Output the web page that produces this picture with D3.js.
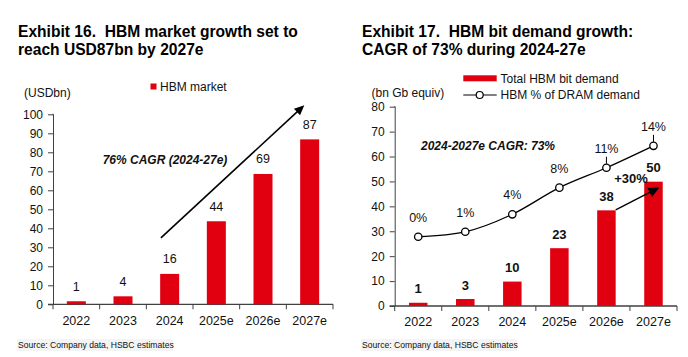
<!DOCTYPE html>
<html><head><meta charset="utf-8">
<script src="https://cdn.jsdelivr.net/npm/d3@7/dist/d3.min.js"></script>
<style>
html,body{margin:0;padding:0;background:#fff;}
svg{display:block;font-family:"Liberation Sans",Arial,sans-serif;}
text{white-space:pre;}
</style></head>
<body><svg id="c" width="688" height="357"></svg>
<script>
// ---- data ----
const years = ["2022","2023","2024","2025e","2026e","2027e"];
const marketValues = [1.6, 4.2, 16, 43.7, 68.6, 86.8];
const marketLabels = ["1","4","16","44","69","87"];
const marketTicks = [0,10,20,30,40,50,60,70,80,90,100];
const bitDemand = [1.3, 2.8, 9.8, 23.2, 38.4, 49.9];
const bitLabels = ["1","3","10","23","38","50"];
const dramShareLine = [27.8, 29.8, 36.8, 47.5, 55.5, 64.3]; // plotted on left scale
const dramShareLabels = ["0%","1%","4%","8%","11%","14%"];
const bitTicks = [0,10,20,30,40,50,60,70,80];

const RED = "#e0000f", AX = "#404040", TXT = "#111";
const svg = d3.select("#c");

function text(g, x, y, s, o={}) {
  return g.append("text").attr("x", x).attr("y", y).attr("dy","0.35em")
    .attr("font-size", o.size||12).attr("font-weight", o.weight||"normal")
    .attr("font-style", o.style||"normal").attr("text-anchor", o.anchor||"start")
    .attr("fill", o.fill||TXT).text(s);
}

function axes(g, x, y, ticks) {
  const x0 = x.range()[0], x1 = x.range()[1], y0 = y(0);
  const ya = g.append("g").attr("transform", `translate(${x0},0)`)
    .call(d3.axisLeft(y).tickValues(ticks).tickSize(5).tickPadding(5));
  ya.select(".domain").attr("stroke", AX).attr("d", `M-0.5,${y(ticks[ticks.length-1])}H0.5V${y0}`);
  ya.selectAll(".tick line").attr("stroke", AX);
  ya.selectAll(".tick text").attr("font-size", 12).attr("fill", TXT).attr("font-family", null);
  ya.attr("font-family", null);
  g.append("line").attr("x1", x0-5).attr("x2", x1).attr("y1", y0).attr("y2", y0).attr("stroke", AX).attr("stroke-width", 1.3);
  const bounds = years.map(d => x(d)).concat([x1]);
  bounds.forEach(b => g.append("line").attr("x1", b).attr("x2", b).attr("y1", y0).attr("y2", y0+5).attr("stroke", AX));
  years.forEach(d => text(g, x(d)+x.bandwidth()/2, y0+16, d, {anchor:"middle", size:12.5}));
}

// ===== Chart 1 =====
{
  const g = svg.append("g");
  text(g, 18, 32, "Exhibit 16.  HBM market growth set to", {size:15.6, weight:"bold", fill:"#000"});
  text(g, 18, 50, "reach USD87bn by 2027e", {size:15.6, weight:"bold", fill:"#000"});
  const x = d3.scaleBand().domain(years).range([53, 333]).padding(0);
  const y = d3.scaleLinear().domain([0,100]).range([304.3, 114.3]);
  text(g, 24, 93, "(USDbn)", {size:12});
  g.append("rect").attr("x",150.5).attr("y",83.5).attr("width",6).attr("height",6).attr("fill",RED);
  text(g, 160, 87, "HBM market", {size:12});
  axes(g, x, y, marketTicks);
  const bw = 19;
  g.selectAll(".b1").data(years).enter().append("rect")
    .attr("x", d => x(d)+x.bandwidth()/2-bw/2).attr("width", bw)
    .attr("y", (d,i) => y(marketValues[i])).attr("height", (d,i) => y(0)-y(marketValues[i]))
    .attr("fill", RED);
  years.forEach((d,i) => text(g, x(d)+x.bandwidth()/2, y(marketValues[i])-15, marketLabels[i], {anchor:"middle", size:12.5}));
  text(g, 165, 160, "76% CAGR (2024-27e)", {anchor:"middle", size:12, weight:"bold", style:"italic"});
  // arrow
  const ax0 = x("2024")+14.6, ay0 = y(35), ax1 = x("2027e")+18, ay1 = y(104.8);
  const ang = Math.atan2(ay1-ay0, ax1-ax0);
  const hl = 10, hw = 4.5;
  g.append("line").attr("x1",ax0).attr("y1",ay0).attr("x2",ax1-hl*0.8*Math.cos(ang)).attr("y2",ay1-hl*0.8*Math.sin(ang)).attr("stroke","#000").attr("stroke-width",1.6);
  const bx = ax1-hl*Math.cos(ang), by = ay1-hl*Math.sin(ang);
  g.append("path").attr("d", `M${ax1},${ay1}L${bx+hw*Math.sin(ang)},${by-hw*Math.cos(ang)}L${bx-hw*Math.sin(ang)},${by+hw*Math.cos(ang)}Z`).attr("fill","#000");
  g.append("rect").attr("x",17).attr("y",339).attr("width",156).attr("height",12).attr("fill","#f4f4f4");
  text(g, 18, 345, "Source: Company data, HSBC estimates", {size:8.6});
}

// ===== Chart 2 =====
{
  const g = svg.append("g");
  text(g, 362, 32, "Exhibit 17.  HBM bit demand growth:", {size:15.6, weight:"bold", fill:"#000"});
  text(g, 362, 50, "CAGR of 73% during 2024-27e", {size:15.6, weight:"bold", fill:"#000"});
  const x = d3.scaleBand().domain(years).range([394.7, 677]).padding(0);
  const y = d3.scaleLinear().domain([0,80]).range([306, 106.7]);
  text(g, 371.5, 93, "(bn Gb equiv)", {size:12});
  g.append("rect").attr("x",463.3).attr("y",75.3).attr("width",33.4).attr("height",6).attr("fill",RED);
  text(g, 500.5, 79, "Total HBM bit demand", {size:12});
  g.append("line").attr("x1",463.3).attr("x2",496.7).attr("y1",95).attr("y2",95).attr("stroke","#000").attr("stroke-width",1.2);
  g.append("circle").attr("cx",479.7).attr("cy",95).attr("r",3.5).attr("fill","#fff").attr("stroke","#000").attr("stroke-width",1.2);
  text(g, 500.5, 95, "HBM % of DRAM demand", {size:12});
  axes(g, x, y, bitTicks);
  const bw = 18.5;
  g.selectAll(".b2").data(years).enter().append("rect")
    .attr("x", d => x(d)+x.bandwidth()/2-bw/2).attr("width", bw)
    .attr("y", (d,i) => y(bitDemand[i])).attr("height", (d,i) => y(0)-y(bitDemand[i]))
    .attr("fill", RED);
  years.forEach((d,i) => text(g, x(d)+x.bandwidth()/2, y(bitDemand[i])-14, bitLabels[i], {anchor:"middle", size:13, weight:"bold"}));
  const cx = d => x(d)+x.bandwidth()/2;
  const line = d3.line().x((d,i) => cx(years[i])).y(d => y(d)).curve(d3.curveMonotoneX);
  g.append("path").attr("d", line(dramShareLine)).attr("fill","none").attr("stroke","#000").attr("stroke-width",1.3);
  // leader lines for 11% and 14%
  [4,5].forEach(i => g.append("line").attr("x1",cx(years[i])).attr("x2",cx(years[i])).attr("y1",y(dramShareLine[i])-11).attr("y2",y(dramShareLine[i])-4).attr("stroke","#000").attr("stroke-width",1));
  g.selectAll(".pt").data(dramShareLine).enter().append("circle")
    .attr("cx",(d,i)=>cx(years[i])).attr("cy",d=>y(d)).attr("r",3.7)
    .attr("fill","#fff").attr("stroke","#000").attr("stroke-width",1.3);
  dramShareLine.forEach((v,i) => text(g, cx(years[i]), y(v)-19.5, dramShareLabels[i], {anchor:"middle", size:12.5}));
  text(g, 488, 146, "2024-2027e CAGR: 73%", {anchor:"middle", size:12, weight:"bold", style:"italic"});
  text(g, 631, 178, "+30%", {anchor:"middle", size:13, weight:"bold"});
  // arrow from 2026e bar to 2027e bar
  const ax0 = x("2026e")+x.bandwidth()/2+bw/2, ay0 = y(bitDemand[4])-0.5;
  const ax1 = x("2027e")+x.bandwidth()/2+6, ay1 = y(47.6);
  const ang = Math.atan2(ay1-ay0, ax1-ax0);
  const hl = 11, hw = 5;
  g.append("line").attr("x1",ax0).attr("y1",ay0).attr("x2",ax1-hl*0.8*Math.cos(ang)).attr("y2",ay1-hl*0.8*Math.sin(ang)).attr("stroke","#000").attr("stroke-width",1.4);
  const bx = ax1-hl*Math.cos(ang), by = ay1-hl*Math.sin(ang);
  g.append("path").attr("d", `M${ax1},${ay1}L${bx+hw*Math.sin(ang)},${by-hw*Math.cos(ang)}L${bx-hw*Math.sin(ang)},${by+hw*Math.cos(ang)}Z`).attr("fill","#000");
  g.append("rect").attr("x",361).attr("y",339).attr("width",156).attr("height",12).attr("fill","#f4f4f4");
  text(g, 362, 345, "Source: Company data, HSBC estimates", {size:8.6});
}
</script></body></html>
